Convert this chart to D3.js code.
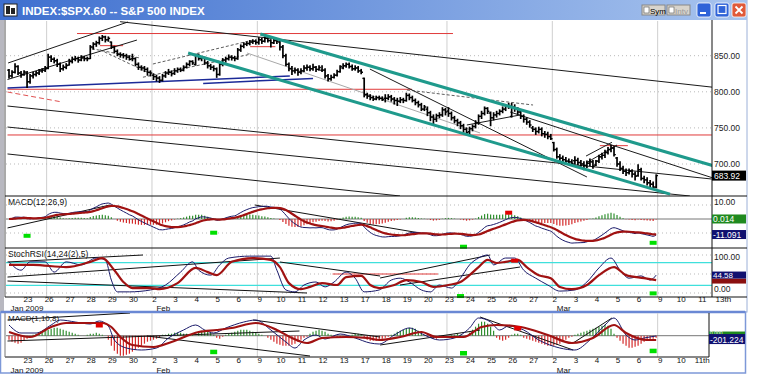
<!DOCTYPE html>
<html><head><meta charset="utf-8">
<script src="https://cdn.jsdelivr.net/npm/d3@7"></script>
<style>body{margin:0;background:#fff}svg{display:block;font-family:"Liberation Sans",Arial,sans-serif}</style>
</head><body><svg id="c" width="758" height="382"></svg>
<script>
// ---------------- DATA ----------------
const titleText = "INDEX:$SPX.60 -- S&P 500 INDEX";
const dayLabels = ["23","26","27","28","29","30","2","3","4","5","6","9","10","11","12","13","17","18","19","20","23","24","25","26","27","2","3","4","5","6","9","10","11","13th"];
const lowerDayLabels = ["23","26","27","28","29","30","2","3","4","5","6","9","10","11","12","13","17","18","19","20","23","24","25","26","27","2","3","4","5","6","9","10","11th"];
const monthLabels = [{bar:1,text:"Jan 2009"},{bar:49.5,text:"Feb"},{bar:182.5,text:"Mar"}];
const gridBars = [13,48,83,146,181,216];
const priceTicks = [850,800,750,700];
// open of the first visible bar of each session (Jan 22 partial, then Jan 23 ... Mar 6)
const dayOpen = [830,826,832.5,837,846,868.9,845.7,823,825.7,837.8,831.8,846,868.2,868.8,827.4,829.9,833,818.6,791,787.9,775.9,773.3,744.7,770.6,765.8,749.9,729.6,704.4,698.6,708.3,684];
const barClose = [
822,827,835,826,824,827.5,
814,822,824,826,829,830,832,
848,845,843,838,832,834,836.5,
842,845,846,844,847,846,846,
862,866,868,874,876,872,874,
862,856,852,851,850,848,845,
846,838,834,833,831,827,826,
821,819,816,822,826,827,825,
829,831,830,834,838,842,840,
851,846,847,840,836,834,832,
824,838,844,846,848,847,846,
858,863,866,867,869,870,868.6,
872,870,874,871,868,871,870,
862,850,838,832,829,830,827,
829,833,834,832,834,831,833.7,
830,822,818,820,823,828,835,
836,838,835,832,833,829,827,
796,794,792,790,792,791,789,
791,793,790,788,787,789,788,
795,792,788,785,782,776,779,
771,765,762,767,768,775,772,
770,764,760,757,753,748,743.5,
749,752,757,766,770,777,773,
764,768,770,773,776,780,781,
779,776,772,766,762,758,754,
748,745,748,742,741,738,735,
720,710,708,706,704,703,700.8,
705,702,700,698,701,703,697,
704,710,712,716,720,722,713,
700,694,690,688,690,686,683,
692,680,678,674,672,668,683.92];
const barHigh = [
831,829,839,836,828,829,
828,824,827,828,831,832,835,
852,850,847,845,840,837,839,
845,848,849,848,850,849,848,
864,868,870,876,878,877,876,
869,863,858,854,853,852,850,
852,847,840,836,835,833,829,
825,823,821,824,828,831,829,
832,833,833,836,840,843,843,
852,852,849,848,842,838,836,
833,840,846,848,851,850,849,
860,865,868,869,871,872,871,
875,874,876,875,872,873,873,
871,864,852,840,835,833,832,
832,836,837,836,838,835,836,
836,832,824,823,825,830,836,
839,840,840,837,836,835,831,
819,798,796,794,794,794,793,
796,796,795,792,791,792,791,
798,797,794,790,787,784,781,
779,773,768,769,771,778,777,
778,772,766,762,759,755,750,
751,754,760,768,773,779,778,
772,771,773,775,779,782,784,
784,782,778,775,768,764,760,
752,750,751,750,745,744,741,
730,722,713,711,709,707,706,
710,708,705,703,704,707,705,
705,712,715,719,723,726,724,
709,703,697,693,693,692,689,
699,694,683,681,677,675,685];
const barLow = [
819,820,826,824,820,823,
806,812,819,822,824,827,828,
832,842,840,835,828,830,832,
837,840,843,841,843,843,843,
846,859,863,866,871,869,870,
860,854,850,848,847,845,844,
843,836,831,830,828,823,822,
817,815,813,815,820,824,822,
824,827,828,829,833,836,838,
837,844,843,838,833,831,829,
820,823,836,841,844,844,843,
845,856,861,864,865,867,866,
866,867,869,869,862,867,867,
858,847,836,829,824,826,823,
825,828,830,829,830,828,830,
828,819,815,816,819,822,827,
832,834,833,830,830,827,825,
793,791,789,788,789,789,788,
786,789,787,783,781,785,785,
787,789,786,782,779,774,774,
767,760,755,759,764,766,768,
766,761,757,753,749,744,742,
741,746,750,755,763,768,770,
753,761,765,768,771,774,777,
765,773,769,763,758,755,751,
745,741,743,739,737,735,734,
718,708,705,703,701,700,699,
700,699,697,692,695,698,694,
698,702,707,709,714,717,711,
697,691,687,684,686,682,678,
683,678,674,671,668,667,667];
// trend lines on the price panel: [bar1, price1, bar2, price2]
const tealLines = [[84,880,234.4,697.6],[60,853.7,220.1,658.3]];
const blackLines = [[0.2,839.9,40,896.7],[0,817,43,871.7],[37.4,897.1,234.4,806.3],[0,780.3,234,679.2],[0,751.2,226.7,655.7],[0,713.9,130.4,655.7],[120.4,831.5,192.5,682],[167,772,234.4,680.6],[192.2,701.4,202.5,726.3],[192.2,711,200.8,730],[152.6,754,170.3,767.9]];
const grayLines = [[79.6,853.7,157,743]];
const dashedLines = [[45,820.2,80.6,852],[48.3,838.5,82.9,873],[30.7,858.3,47.3,825.5],[132.7,802.5,174.6,781.7],[28,859.7,44,846.8]];
const redLines = [[23.1,880.7,148,880.7],[30.7,863.9,38.4,863.9],[0,803.5,134.4,803.5],[0,740.2,234,740.2],[196.8,725.4,206.1,725.4],[80.6,862.5,89,862.5]];
const redDashed = [[0,799.7,18.1,785.9]];
const blueLines = [[0,805.3,93.8,821.9],[65,811.6,101.5,818.5]];
// MACD(12,26,9) panel (computed from the closes)
const macdParams = [12,26,9];
const macdTicks = [10];
const macdBoxes = [{v:0.014,text:"0.014",fill:"#1f8a1f"},{v:-11.091,text:"-11.091",fill:"#101070"}];
const macdTrend = [[0,-6.4,34,10],[82.2,10,137,-10]];
const macdSignals = [{bar:6,v:-12,c:"#00e000"},{bar:68,v:-9.8,c:"#00e000"},{bar:151,v:-19.8,c:"#00e000"},{bar:214,v:-17,c:"#00e000"},{bar:166,v:4.5,c:"#e00000"}];
// StochRSI panel
const stochKBar = [0,4,7,12,15,19,24,29,32,34,36,40,47,52,57,61,63,67,70,73,80,87,89,92,95,98,102,105,108,112,115,118,123,127,130,133,137,140,143,147,150,153,156,159,161,165,168,171,175,179,183,188,192,196,200,203,206,210,213,215];
const stochKVal = [82,60,82,82,55,82,74,92,87,34,3,3,8,21,55,82,60,47,74,92,97,97,60,8,3,21,29,16,29,55,39,3,8,34,39,29,8,3,21,13,39,74,92,100,74,92,92,60,39,21,5,8,29,66,92,60,39,45,34,47];
const stochDBar = [0,8,19,27,31,35,38,41,47,50,56,62,66,69,74,81,87,90,93,97,100,104,109,112,117,120,123,128,132,137,141,146,150,153,156,159,162,165,169,172,176,180,183,187,192,196,201,205,211,215];
const stochDVal = [74,74,68,82,92,60,29,13,13,10,26,66,55,47,82,92,87,68,26,10,16,26,21,42,45,21,13,21,34,29,16,21,29,47,68,87,79,82,87,68,47,39,16,10,21,47,68,47,39,34];
const stochTicks = [{v:100,dy:4.5},{v:0,dy:-1}];
const stochLevels = [80,20];
const stochBoxes = [{v:44.58,text:"44.58",fill:"#101070"}];
const stochTrend = [[0,81.6,45,100],[0,42,90.5,92],[0,31.6,99.5,0],[90.5,81.6,123.8,44.7],[123.8,39.5,160.3,100],[130.4,21,170.3,68.4]];
const stochRed = [[108,50,143,50]];
const stochSignals = [{bar:150,v:-8,c:"#00e000"},{bar:214,v:-1,c:"#00e000"},{bar:168,v:85,c:"#e00000"}];
// lower MACD(1,10,8) panel
const lowerSlowBar = [0,7,14,19,27,31,34,37,41,48,54,63,69,74,82,89,94,99,104,112,119,123,130,137,142,151,157,162,170,179,187,194,201,205,212,215];
const lowerSlowVal = [222,-78,522,762,762,762,522,-78,-558,-678,-378,222,342,462,762,342,-138,-438,-138,-78,-138,-258,-78,222,-78,-78,522,642,522,42,-438,-138,642,162,-258,-258];
const lowerFastBar = [0,4,9,14,17,22,27,30,33,35,39,44,49,53,58,62,65,68,72,78,82,87,92,95,98,102,105,110,115,120,123,128,133,138,143,148,153,156,160,163,166,171,176,183,188,193,198,201,205,208,211,215];
const lowerFastVal = [642,162,162,642,942,822,702,882,582,-258,-738,-858,-738,-138,342,642,342,162,462,822,942,342,-378,-738,-258,42,-198,102,-138,-438,-498,42,462,42,-258,-138,462,1062,822,342,582,342,-258,-738,-858,-258,642,1062,42,-258,-138,-18];
const lowerHist = [
-240,-360,-420,-480,-420,-300,-180,
-60,60,120,
180,240,300,360,420,480,480,420,360,300,240,180,120,
60,0,0,60,
120,120,180,120,60,0,
-240,-600,-900,-1080,-1200,-1200,-1140,-1080,-960,-840,-720,-600,-480,-360,-300,-240,-180,-120,
60,60,120,120,180,180,180,120,120,60,60,0,
240,300,360,300,180,60,
-120,-180,-60,
60,120,180,240,300,360,360,360,300,240,180,120,60,0,
-120,-240,-360,-480,-540,-600,-600,-600,-540,-480,-360,-240,-120,-60,
120,240,300,360,300,240,120,60,
-60,-120,-120,-120,-60,0,
60,120,120,60,
-120,-240,-300,-300,-300,-240,-180,-120,-60,
60,120,240,300,360,420,480,480,420,300,180,60,
-60,-120,-180,-180,-120,-60,0,0,60,60,
120,60,0,0,
180,360,540,720,840,840,720,540,300,
-120,-240,-300,-240,-120,
60,120,120,60,
-120,-180,-240,-300,-360,-420,-480,-540,-600,-600,-600,-540,-480,-360,-240,-120,-60,
60,120,180,240,300,360,420,480,540,600,660,600,420,
120,-120,
-300,-480,-600,-720,-720,-660,-600,-480,-360,-300,-240,-180,-120];
const lowerTrend = [[0,942,40.7,1362],[0,-318,97,282],[46.3,-18,100.5,-1218],[81.6,942,123.8,-78],[123.8,-558,157,342],[157,1122,187.9,-858],[187.9,-438,200.8,1062]];
const lowerBoxes = [{v:100,text:"0.000",fill:"#1f8a1f",h:5},{v:-201.224,text:"-201.224",fill:"#101070",h:10}];
const lowerSignals = [{bar:68,v:-960,c:"#00e000"},{bar:151,v:-1038,c:"#00e000"},{bar:214,v:-900,c:"#00e000"},{bar:30,v:642,c:"#e00000"},{bar:169,v:462,c:"#e00000"}];

// ---------------- HELPERS ----------------
const N = barClose.length;
const barOpen = barClose.map((c,i)=>{
  if(i===0) return dayOpen[0];
  if(i>=6 && (i-6)%7===0) return dayOpen[1+(i-6)/7];
  return barClose[i-1];
});
function ema(arr,n){const a=2/(n+1);const out=[];let e=arr[0];arr.forEach((v,i)=>{e=i===0?v:e+a*(v-e);out.push(e);});return out;}
const e12=ema(barClose,macdParams[0]), e26=ema(barClose,macdParams[1]);
const macd=e12.map((v,i)=>v-e26[i]);
const sig=ema(macd,macdParams[2]);
const hist=macd.map((v,i)=>v-sig[i]);

// ---------------- SCALES ----------------
const svg=d3.select("#c");
const x=d3.scaleLinear().domain([0,216]).range([7.5,657.66]);
const xc=i=>x(i+0.5);
const yP=d3.scaleLinear().domain([700,850]).range([164,55.7]);
const yM=d3.scaleLinear().domain([-10,10]).range([233,205]);
const yS=d3.scaleLinear().domain([0,100]).range([293,255]);
const yL=d3.scaleLinear().domain([0,600]).range([335.7,325.7]);

const defs=svg.append("defs");
const g1=defs.append("linearGradient").attr("id","tb").attr("x1",0).attr("x2",1);
g1.append("stop").attr("offset",0).attr("stop-color","#3e6fcf");
g1.append("stop").attr("offset",1).attr("stop-color","#a8c4ee");
function clip(id,x0,y0,w,h){defs.append("clipPath").attr("id",id).append("rect").attr("x",x0).attr("y",y0).attr("width",w).attr("height",h);}
clip("cm",6,21,706,175);clip("cmacd",6,196,706,52);clip("cst",6,248,706,49);clip("clo",6,313,703,44);

// ---------------- WINDOW CHROME ----------------
svg.append("rect").attr("x",0).attr("y",0).attr("width",747).attr("height",312).attr("fill","#fff").attr("stroke","#9cb0d8");
svg.append("rect").attr("x",0).attr("y",0).attr("width",747).attr("height",20).attr("fill","url(#tb)");
svg.append("rect").attr("x",4).attr("y",4).attr("width",13).attr("height",12).attr("fill","#fff").attr("stroke","#222");
svg.append("rect").attr("x",6).attr("y",6).attr("width",4).attr("height",8).attr("fill","#222");
svg.append("rect").attr("x",11).attr("y",8).attr("width",4).attr("height",6).attr("fill","#222");
svg.append("text").attr("x",22).attr("y",14.5).attr("fill","#fff").attr("font-size",11.5).attr("font-weight","bold").text(titleText);
[["Sym",642],["Intv",667]].forEach(([t,bx])=>{
  svg.append("rect").attr("x",bx).attr("y",5).attr("width",23).attr("height",10).attr("fill","#d8d4cc").attr("stroke","#888");
  svg.append("rect").attr("x",bx+2).attr("y",7).attr("width",5).attr("height",6).attr("fill","#fff").attr("stroke","#555").attr("stroke-width",0.6);
  svg.append("text").attr("x",bx+8).attr("y",13.5).attr("font-size",8).attr("fill",t==="Sym"?"#000":"#999").text(t);
});
[[697,"#2f63d8"],[715,"#2f63d8"],[732,"#e05a3a"]].forEach(([bx,c],k)=>{
  svg.append("rect").attr("x",bx).attr("y",3).attr("width",14).attr("height",14).attr("rx",2).attr("fill",c).attr("stroke","#fff").attr("stroke-width",0.8);
  if(k===0) svg.append("rect").attr("x",bx+3).attr("y",12).attr("width",6).attr("height",2).attr("fill","#fff");
  if(k===1) svg.append("rect").attr("x",bx+3).attr("y",5.5).attr("width",8).attr("height",8).attr("fill","none").attr("stroke","#fff").attr("stroke-width",1.2);
  if(k===2){svg.append("path").attr("d",`M${bx+3.5},6.5L${bx+10.5},13.5M${bx+10.5},6.5L${bx+3.5},13.5`).attr("stroke","#fff").attr("stroke-width",1.8);}
});
svg.append("rect").attr("x",0).attr("y",20).attr("width",4).attr("height",291).attr("fill","#b8b8c0");
svg.append("line").attr("x1",5).attr("x2",5).attr("y1",20).attr("y2",297).attr("stroke","#555");
// lower window
svg.append("rect").attr("x",0.5).attr("y",312).attr("width",745).attr("height",61).attr("fill","#fff").attr("stroke","#7d98d8").attr("stroke-width",1.5);
svg.append("line").attr("x1",1).attr("x2",745).attr("y1",312).attr("y2",312).attr("stroke","#6a88d4").attr("stroke-width",2.5);

// ---------------- GRIDS ----------------
const grid=svg.append("g");
gridBars.forEach(b=>{
  grid.append("line").attr("x1",x(b)).attr("x2",x(b)).attr("y1",21).attr("y2",297).attr("stroke","#cfcfcf");
  grid.append("line").attr("x1",x(b)).attr("x2",x(b)).attr("y1",313).attr("y2",357).attr("stroke","#cfcfcf");
});
priceTicks.forEach(p=>grid.append("line").attr("x1",6).attr("x2",712).attr("y1",yP(p)).attr("y2",yP(p)).attr("stroke","#b9b9b9").attr("stroke-dasharray","1,3"));
[10,-10].forEach(v=>grid.append("line").attr("x1",6).attr("x2",712).attr("y1",yM(v)).attr("y2",yM(v)).attr("stroke","#b9b9b9").attr("stroke-dasharray","1,3"));
[100,50,0].forEach(v=>grid.append("line").attr("x1",6).attr("x2",712).attr("y1",yS(v)).attr("y2",yS(v)).attr("stroke","#b9b9b9").attr("stroke-dasharray","1,3"));

// ---------------- MAIN PRICE PANEL ----------------
const gm=svg.append("g").attr("clip-path","url(#cm)");
const seg=(g,arr,ys,color,w,dash)=>arr.forEach(l=>g.append("line").attr("x1",x(l[0])).attr("y1",ys(l[1])).attr("x2",x(l[2])).attr("y2",ys(l[3])).attr("stroke",color).attr("stroke-width",w).attr("stroke-dasharray",dash||null));
seg(gm,redLines,yP,"#e03a3a",1);
seg(gm,redDashed,yP,"#e05050",1,"5,3");
seg(gm,grayLines,yP,"#a8a8a8",1);
seg(gm,blackLines,yP,"#1a1a1a",1);
seg(gm,dashedLines,yP,"#333",0.8,"3,2");
seg(gm,blueLines,yP,"#1c2a98",1.5);
const bars=gm.append("g");
barClose.forEach((c,i)=>{
  const cx=xc(i);
  bars.append("line").attr("x1",cx).attr("x2",cx).attr("y1",yP(barHigh[i])-0.5).attr("y2",yP(barLow[i])+0.5).attr("stroke","#000").attr("stroke-width",1.7);
  bars.append("line").attr("x1",cx-1.8).attr("x2",cx).attr("y1",yP(barOpen[i])).attr("y2",yP(barOpen[i])).attr("stroke","#000").attr("stroke-width",1.4);
  bars.append("line").attr("x1",cx).attr("x2",cx+1.8).attr("y1",yP(c)).attr("y2",yP(c)).attr("stroke","#000").attr("stroke-width",1.4);
});
seg(gm,tealLines,yP,"#1f9a8c",3);

// ---------------- MACD PANEL ----------------
const gmac=svg.append("g").attr("clip-path","url(#cmacd)");
gmac.append("line").attr("x1",6).attr("x2",712).attr("y1",yM(0)).attr("y2",yM(0)).attr("stroke","#777");
hist.forEach((h,i)=>gmac.append("line").attr("x1",xc(i)).attr("x2",xc(i)).attr("y1",yM(0)).attr("y2",yM(h)).attr("stroke",h>=0?"#2f8f2f":"#d42a2a").attr("stroke-width",1.2));
seg(gmac,macdTrend,yM,"#111",1);
const lineGen=(ys)=>d3.line().x((d,i)=>xc(i)).y(d=>ys(d)).curve(d3.curveMonotoneX);
gmac.append("path").attr("d",lineGen(yM)(macd)).attr("fill","none").attr("stroke","#1a1a6a").attr("stroke-width",1);
gmac.append("path").attr("d",lineGen(yM)(sig)).attr("fill","none").attr("stroke","#a01212").attr("stroke-width",2.2);
macdSignals.forEach(s=>svg.append("rect").attr("x",xc(s.bar)-3.5).attr("y",yM(s.v)-2).attr("width",7).attr("height",4).attr("fill",s.c));
svg.append("text").attr("x",8).attr("y",205).attr("font-size",8.5).attr("fill","#111").text("MACD(12,26,9)");

// ---------------- STOCH RSI PANEL ----------------
const sampleLine=(ys)=>d3.line().x(d=>xc(d[0])).y(d=>ys(d[1])).curve(d3.curveMonotoneX);
const gst=svg.append("g").attr("clip-path","url(#cst)");
stochLevels.forEach(v=>gst.append("line").attr("x1",6).attr("x2",712).attr("y1",yS(v)).attr("y2",yS(v)).attr("stroke","#3fe0dc").attr("stroke-width",1.2));
seg(gst,stochRed,yS,"#e03a3a",1);
seg(gst,stochTrend,yS,"#111",1);
gst.append("path").attr("d",sampleLine(yS)(stochKBar.map((b,k)=>[b,stochKVal[k]]))).attr("fill","none").attr("stroke","#1a1a6a").attr("stroke-width",1);
gst.append("path").attr("d",sampleLine(yS)(stochDBar.map((b,k)=>[b,stochDVal[k]]))).attr("fill","none").attr("stroke","#a01212").attr("stroke-width",2.2);
stochSignals.forEach(s=>svg.append("rect").attr("x",xc(s.bar)-3.5).attr("y",yS(s.v)-2).attr("width",7).attr("height",4).attr("fill",s.c));
svg.append("text").attr("x",8).attr("y",257).attr("font-size",8.5).attr("fill","#111").text("StochRSI(14,24(2),5)");

// ---------------- LOWER PANEL ----------------
const glo=svg.append("g").attr("clip-path","url(#clo)");
glo.append("line").attr("x1",6).attr("x2",709).attr("y1",yL(0)).attr("y2",yL(0)).attr("stroke","#777");
lowerHist.forEach((h,i)=>glo.append("line").attr("x1",xc(i)).attr("x2",xc(i)).attr("y1",yL(0)).attr("y2",yL(h)).attr("stroke",h>=0?"#2f8f2f":"#d42a2a").attr("stroke-width",1.2));
seg(glo,lowerTrend,yL,"#111",1);
glo.append("path").attr("d",sampleLine(yL)(lowerFastBar.map((b,k)=>[b,lowerFastVal[k]]))).attr("fill","none").attr("stroke","#1a1a6a").attr("stroke-width",1);
glo.append("path").attr("d",sampleLine(yL)(lowerSlowBar.map((b,k)=>[b,lowerSlowVal[k]]))).attr("fill","none").attr("stroke","#a01212").attr("stroke-width",2.2);
lowerSignals.forEach(s=>svg.append("rect").attr("x",xc(s.bar)-3.5).attr("y",yL(s.v)-2).attr("width",7).attr("height",4.5).attr("fill",s.c));
svg.append("text").attr("x",8).attr("y",321).attr("font-size",8).attr("fill","#111").text("MACD(1,10,8)");

// ---------------- PANEL FRAMES / AXES ----------------
const fr=svg.append("g").attr("stroke","#111");
[196,248,297].forEach(yy=>fr.append("line").attr("x1",5).attr("x2",747).attr("y1",yy).attr("y2",yy));
fr.append("line").attr("x1",712).attr("x2",712).attr("y1",20).attr("y2",297);
fr.append("line").attr("x1",5).attr("x2",709).attr("y1",357).attr("y2",357);
fr.append("line").attr("x1",709).attr("x2",709).attr("y1",313).attr("y2",357);
fr.append("line").attr("x1",5).attr("x2",5).attr("y1",313).attr("y2",357).attr("stroke","#777");

const lab=svg.append("g").attr("font-size",8.5).attr("fill","#222");
priceTicks.forEach(p=>lab.append("text").attr("x",714).attr("y",yP(p)+3).text(d3.format(".2f")(p)));
const last=barClose[N-1];
svg.append("rect").attr("x",712).attr("y",yP(last)-5).attr("width",34).attr("height",10).attr("fill","#000");
svg.append("text").attr("x",714).attr("y",yP(last)+3).attr("font-size",8.5).attr("fill","#fff").text(d3.format(".2f")(last));
macdTicks.forEach(v=>lab.append("text").attr("x",714).attr("y",yM(v)).text(d3.format(".2f")(v)));
macdBoxes.forEach(b=>{svg.append("rect").attr("x",712).attr("y",yM(b.v)-4.5).attr("width",34).attr("height",9).attr("fill",b.fill);
  svg.append("text").attr("x",713).attr("y",yM(b.v)+3).attr("font-size",8.5).attr("fill","#fff").text(b.text);});
stochTicks.forEach(t=>lab.append("text").attr("x",714).attr("y",yS(t.v)+t.dy).text(d3.format(".2f")(t.v)));
svg.append("rect").attr("x",712).attr("y",yS(44.58)+2.5).attr("width",34).attr("height",5).attr("fill","#8a1010");
stochBoxes.forEach(b=>{svg.append("rect").attr("x",712).attr("y",yS(b.v)-4.5).attr("width",34).attr("height",7).attr("fill",b.fill);
  svg.append("text").attr("x",713).attr("y",yS(b.v)+2).attr("font-size",8).attr("fill","#fff").text(b.text);});
lowerBoxes.forEach((b,k)=>{const yy=k===0?yL(b.v)-2.5:yL(b.v)-5;svg.append("rect").attr("x",709).attr("y",yy).attr("width",36).attr("height",b.h).attr("fill",b.fill);
  svg.append("text").attr("x",710).attr("y",yy+b.h-1.5).attr("font-size",k===0?5:8.5).attr("fill","#fff").text(b.text);});

// date axes
const dl=svg.append("g").attr("font-size",8).attr("fill","#111").attr("text-anchor","middle");
dayLabels.forEach((t,d)=>dl.append("text").attr("x",x(6+7*d)+2.5).attr("y",301.5).text(t));
lowerDayLabels.forEach((t,d)=>dl.append("text").attr("x",x(6+7*d)+2.5).attr("y",363).text(t));
const ml=svg.append("g").attr("font-size",8).attr("fill","#111");
monthLabels.forEach(m=>{ml.append("text").attr("x",x(m.bar)).attr("y",311).text(m.text);ml.append("text").attr("x",x(m.bar)).attr("y",372.5).text(m.text);});
</script></body></html>
